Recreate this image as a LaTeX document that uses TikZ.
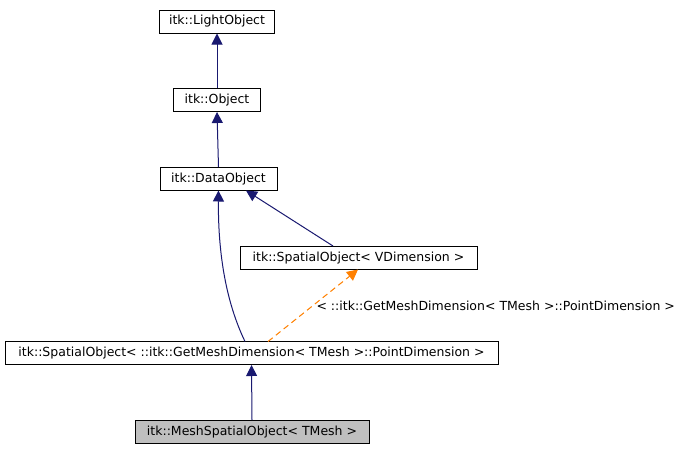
\documentclass[tikz,border=0pt]{standalone}
\usepackage{fontspec}
\setmainfont{DejaVu Sans}
\usetikzlibrary{arrows.meta}
\begin{document}
\begin{tikzpicture}[x=1pt,y=-1pt,
  box/.style={draw=black,line width=1pt,fill=white,minimum height=23pt,inner sep=0pt,font=\fontsize{12.5}{14}\selectfont},
  inh/.style={line width=1pt,draw={rgb,255:red,25;green,25;blue,112},-{Triangle[fill={rgb,255:red,25;green,25;blue,112},length=11pt,width=11pt]}},
  tmpl/.style={line width=1pt,draw=orange,dash pattern=on 6pt off 4pt,-{Triangle[fill=orange,length=11pt,width=11pt]}}]
\useasboundingbox (0,0) rectangle (685,453);
\node[box,minimum width=115pt] (lo) at (217,21.5) {itk::LightObject};
\node[box,minimum width=87pt] (ob) at (217,100) {itk::Object};
\node[box,minimum width=117pt] (do) at (218.5,179) {itk::DataObject};
\node[box,minimum width=237pt] (sv) at (358.5,258) {itk::SpatialObject< VDimension >};
\node[box,minimum width=493pt] (sm) at (251.5,353) {itk::SpatialObject< ::itk::GetMeshDimension< TMesh >::PointDimension >};
\node[box,minimum width=234pt,fill={rgb,255:red,191;green,191;blue,191}] (ms) at (252,432) {itk::MeshSpatialObject< TMesh >};
\draw[inh] (ob.north) -- (lo.south);
\draw[inh] (do.north) -- (ob.south);
\draw[inh] (sv.north -| 333,0) -- (246,190.5);
\draw[inh] (245,341.5) .. controls (225,300) and (218,250) .. (218.5,190.5);
\draw[inh] (ms.north) -- (sm.south);
\draw[tmpl] (268,341.5) -- (358,269.5);
\node[anchor=west,font=\fontsize{12.5}{14}\selectfont] (lbl) at (313,306) {< ::itk::GetMeshDimension< TMesh >::PointDimension >};
\end{tikzpicture}
\end{document}
